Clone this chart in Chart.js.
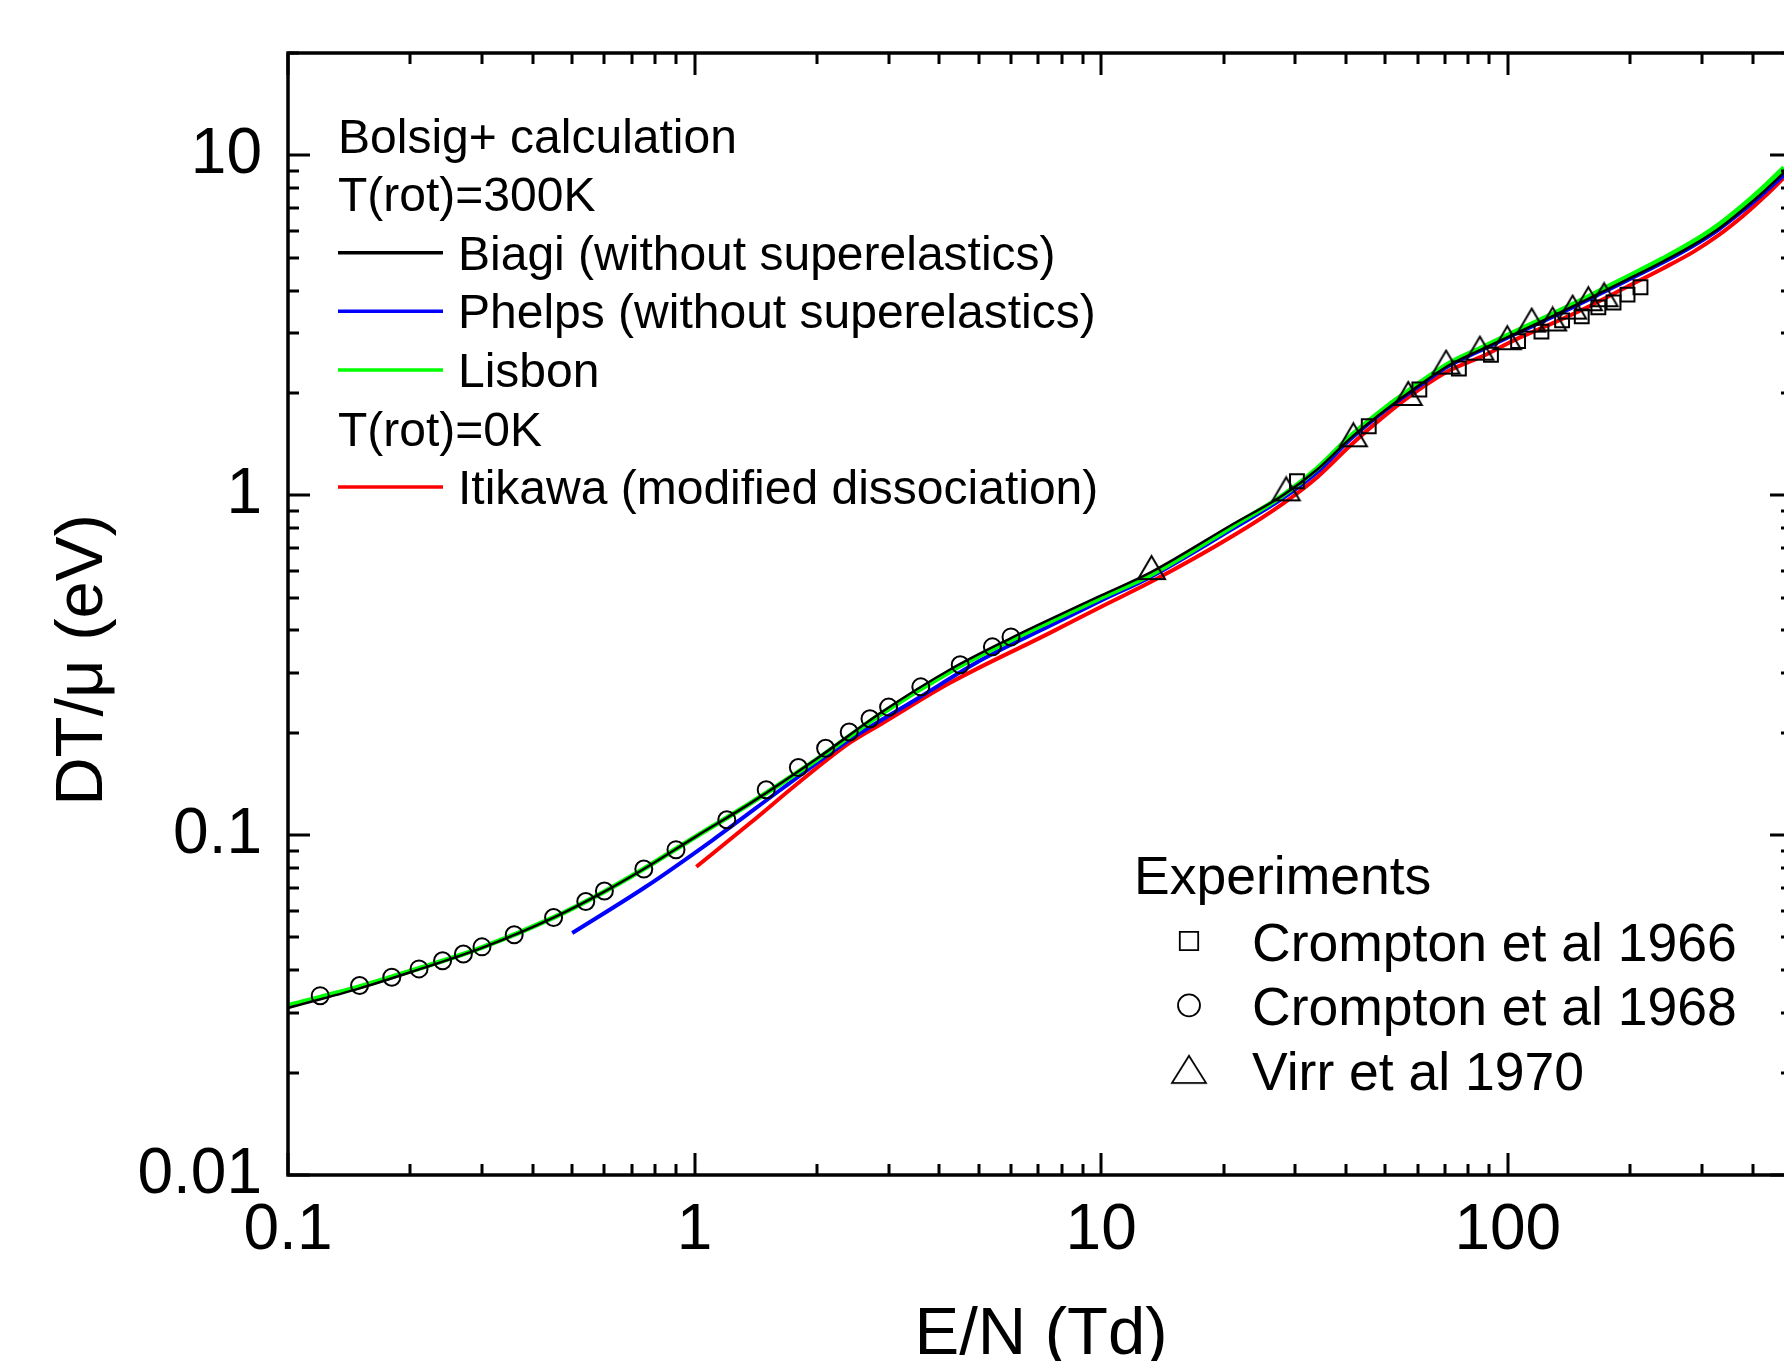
<!DOCTYPE html>
<html>
<head>
<meta charset="utf-8">
<title>DT/mu vs E/N</title>
<script src="https://cdn.jsdelivr.net/npm/chart.js@4.4.0/dist/chart.umd.min.js"></script>
<style>
  html, body { margin: 0; padding: 0; background: #fff; overflow: hidden; }
  #wrap { width: 1800px; height: 1361px; }
</style>
</head>
<body>
<div id="wrap"><canvas id="chart" width="1800" height="1361"></canvas></div>
<script>
// Axis ticks
const xTickValues = [0.1, 1, 10, 100];
const xTickLabels = ['0.1', '1', '10', '100'];
const yTickValues = [0.01, 0.1, 1, 10];
const yTickLabels = ['0.01', '0.1', '1', '10'];

// Bolsig+ calculation, T(rot)=300K
const biagiEN = [0.1, 0.15, 0.2, 0.3, 0.45, 0.6, 0.75, 1.0, 1.37, 2.0, 2.9, 4.25, 6.0, 7.5, 10, 13.3, 21, 28, 34, 41, 50, 60, 72, 87, 105, 130, 155, 196, 240, 286, 330, 380, 430, 478];
const biagiDT = [0.031, 0.0354, 0.0395, 0.0466, 0.0572, 0.0682, 0.0795, 0.0985, 0.124, 0.168, 0.231, 0.307, 0.38, 0.432, 0.507, 0.595, 0.82, 1.0, 1.19, 1.47, 1.78, 2.09, 2.42, 2.70, 3.0, 3.38, 3.74, 4.3, 4.86, 5.45, 6.08, 6.95, 7.9, 8.9];

const phelpsEN = [0.5, 0.76, 1.11, 1.65, 2.41, 3.52, 5.13, 7.48, 10, 13.3, 21, 28, 34, 41, 50, 60, 72, 87, 105, 130, 155, 196, 240, 286, 330, 380, 430, 478];
const phelpsDT = [0.0515, 0.0706, 0.0969, 0.1376, 0.191, 0.2515, 0.33, 0.413, 0.49, 0.577, 0.795, 0.98, 1.17, 1.46, 1.78, 2.08, 2.41, 2.69, 2.99, 3.36, 3.72, 4.28, 4.83, 5.42, 6.05, 6.9, 7.82, 8.75];

const lisbonEN = [0.1, 0.15, 0.2, 0.3, 0.45, 0.6, 0.75, 1.0, 1.37, 2.0, 2.9, 4.25, 6.0, 7.5, 10, 13.3, 21, 28, 34, 41, 50, 60, 72, 87, 105, 130, 155, 196, 240, 286, 330, 380, 430, 478];
const lisbonDT = [0.0315, 0.0358, 0.0398, 0.0467, 0.0572, 0.0682, 0.0795, 0.0985, 0.124, 0.167, 0.229, 0.303, 0.375, 0.426, 0.50, 0.585, 0.81, 1.0, 1.2, 1.49, 1.81, 2.12, 2.45, 2.73, 3.04, 3.43, 3.8, 4.38, 4.96, 5.58, 6.25, 7.15, 8.15, 9.2];

// T(rot)=0K
const itikawaEN = [1.01, 1.37, 1.82, 2.41, 2.91, 4.25, 7.48, 10, 13.3, 21, 28, 34, 41, 50, 60, 72, 87, 105, 127, 155, 196, 240, 286, 330, 380, 430, 478];
const itikawaDT = [0.0807, 0.1085, 0.144, 0.187, 0.214, 0.2805, 0.3935, 0.47, 0.557, 0.757, 0.945, 1.13, 1.40, 1.72, 2.03, 2.33, 2.57, 2.88, 3.18, 3.55, 4.1, 4.64, 5.2, 5.82, 6.65, 7.6, 8.6];

// Experiments
const crompton1966EN = [30.3, 45.5, 60.6, 75.8, 90.9, 106, 121, 136, 152, 167, 182, 197, 212];
const crompton1966DT = [1.099, 1.596, 2.047, 2.36, 2.59, 2.84, 3.03, 3.27, 3.36, 3.57, 3.69, 3.89, 4.09];

const crompton1968EN = [0.12, 0.15, 0.18, 0.21, 0.24, 0.27, 0.30, 0.36, 0.45, 0.54, 0.60, 0.75, 0.90, 1.2, 1.5, 1.8, 2.1, 2.4, 2.7, 3.0, 3.6, 4.5, 5.4, 6.0];
const crompton1968DT = [0.0337, 0.0361, 0.0382, 0.0404, 0.0427, 0.0447, 0.0469, 0.0509, 0.0572, 0.0638, 0.0685, 0.0795, 0.0906, 0.111, 0.136, 0.158, 0.180, 0.201, 0.220, 0.238, 0.273, 0.317, 0.358, 0.383];

const virr1970EN = [13.3, 28.5, 41.7, 56.9, 70.5, 85.4, 99.7, 114.5, 128.9, 144.4, 157.8, 172.5];
const virr1970DT = [0.6125, 1.044, 1.506, 1.992, 2.464, 2.708, 2.906, 3.275, 3.30, 3.576, 3.786, 3.89];

const FONT = '"Liberation Sans", Arial, sans-serif';

function toPoints(xs, ys) {
    return xs.map((x, i) => ({ x: x, y: ys[i] }));
}

// Open triangle centred on its bounding box (as in the original plot)
function makeTriangle(w, h, lw) {
    const c = document.createElement('canvas');
    c.width = Math.ceil(w + lw * 2);
    c.height = Math.ceil(h + lw * 2);
    const g = c.getContext('2d');
    g.strokeStyle = '#000';
    g.lineWidth = lw;
    g.beginPath();
    g.moveTo(c.width / 2, lw);
    g.lineTo(c.width / 2 + w / 2, lw + h);
    g.lineTo(c.width / 2 - w / 2, lw + h);
    g.closePath();
    g.stroke();
    return c;
}

const plotTriangle = makeTriangle(27, 23, 2);
const legendTriangle = makeTriangle(34, 27, 1.8);

function lineSet(label, xs, ys, color, width) {
    return {
        label: label,
        data: toPoints(xs, ys),
        showLine: true,
        borderColor: color,
        borderWidth: width,
        pointRadius: 0,
        fill: false,
        cubicInterpolationMode: 'monotone'
    };
}

function markerSet(label, xs, ys, style, radius) {
    return {
        label: label,
        data: toPoints(xs, ys),
        showLine: false,
        pointStyle: style,
        pointRadius: radius,
        pointBorderColor: '#000',
        pointBackgroundColor: 'rgba(0,0,0,0)',
        pointBorderWidth: 2
    };
}

// Frame, inward ticks, axis titles and the two text legends
const decorPlugin = {
    id: 'decor',
    afterDraw(chart) {
        const ctx = chart.ctx;
        const a = chart.chartArea;
        const x = chart.scales.x;
        const y = chart.scales.y;

        ctx.save();
        ctx.strokeStyle = '#000';
        ctx.lineCap = 'butt';

        // ticks on all four sides, pointing inwards
        ctx.lineWidth = 3;
        ctx.beginPath();
        for (let e = -1; e <= 2; e++) {
            for (let m = 1; m <= 9; m++) {
                const v = m * Math.pow(10, e);
                if (v < x.min || v > x.max) continue;
                const px = Math.round(x.getPixelForValue(v));
                const len = m === 1 ? 22 : 11;
                ctx.moveTo(px, a.bottom); ctx.lineTo(px, a.bottom - len);
                ctx.moveTo(px, a.top); ctx.lineTo(px, a.top + len);
            }
        }
        for (let e = -2; e <= 1; e++) {
            for (let m = 1; m <= 9; m++) {
                const v = m * Math.pow(10, e);
                if (v < y.min || v > y.max) continue;
                const py = Math.round(y.getPixelForValue(v));
                const len = m === 1 ? 22 : 11;
                ctx.moveTo(a.left, py); ctx.lineTo(a.left + len, py);
                ctx.moveTo(a.right, py); ctx.lineTo(a.right - len, py);
            }
        }
        ctx.stroke();

        // frame
        ctx.lineWidth = 3.5;
        ctx.strokeRect(a.left, a.top, a.right - a.left, a.bottom - a.top);

        // axis titles
        ctx.fillStyle = '#000';
        ctx.font = '67px ' + FONT;
        ctx.textAlign = 'center';
        ctx.textBaseline = 'alphabetic';
        ctx.fillText('E/N (Td)', 1041, 1354);
        ctx.save();
        ctx.translate(102, 660);
        ctx.rotate(-Math.PI / 2);
        ctx.fillText('DT/\u03bc (eV)', 0, 0);
        ctx.restore();

        // calculation legend
        const ds = chart.data.datasets;
        ctx.textAlign = 'left';
        ctx.font = '48px ' + FONT;
        const rows = [
            { text: 'Bolsig+ calculation' },
            { text: 'T(rot)=300K' },
            { text: 'Biagi (without superelastics)', color: ds[3].borderColor },
            { text: 'Phelps (without superelastics)', color: ds[5].borderColor },
            { text: 'Lisbon', color: ds[4].borderColor },
            { text: 'T(rot)=0K' },
            { text: 'Itikawa (modified dissociation)', color: ds[6].borderColor }
        ];
        rows.forEach((r, i) => {
            const base = 152.5 + i * 58.6;
            if (r.color) {
                ctx.strokeStyle = r.color;
                ctx.lineWidth = 3.5;
                ctx.beginPath();
                ctx.moveTo(338, base - 17);
                ctx.lineTo(443, base - 17);
                ctx.stroke();
                ctx.fillText(r.text, 458, base);
            } else {
                ctx.fillText(r.text, 338, base);
            }
        });

        // experiments legend
        ctx.font = '53.5px ' + FONT;
        ctx.fillText('Experiments', 1134, 894);
        const exRows = [
            { text: 'Crompton et al 1966', style: 'rect', radius: 13 },
            { text: 'Crompton et al 1968', style: 'circle', radius: 11 },
            { text: 'Virr et al 1970', style: legendTriangle, radius: 0 }
        ];
        exRows.forEach((r, i) => {
            const base = 961 + i * 64.3;
            ctx.fillStyle = '#000';
            ctx.fillText(r.text, 1252, base);
            ctx.save();
            ctx.strokeStyle = '#000';
            ctx.fillStyle = 'rgba(0,0,0,0)';
            ctx.lineWidth = 1.8;
            Chart.helpers.drawPoint(ctx, {
                pointStyle: r.style,
                radius: r.radius,
                rotation: 0,
                borderWidth: 1.8
            }, 1189, base - 20);
            ctx.restore();
        });

        ctx.restore();
    }
};

const ctx = document.getElementById('chart').getContext('2d');

const chart = new Chart(ctx, {
    type: 'scatter',
    data: {
        datasets: [
            markerSet('Virr et al 1970', virr1970EN, virr1970DT, plotTriangle, 14),
            markerSet('Crompton et al 1966', crompton1966EN, crompton1966DT, 'rect', 9.8),
            markerSet('Crompton et al 1968', crompton1968EN, crompton1968DT, 'circle', 8.5),
            lineSet('Biagi (without superelastics)', biagiEN, biagiDT, '#000000', 2.5),
            lineSet('Lisbon', lisbonEN, lisbonDT, '#00ff00', 5),
            lineSet('Phelps (without superelastics)', phelpsEN, phelpsDT, '#0000ff', 4),
            lineSet('Itikawa (modified dissociation)', itikawaEN, itikawaDT, '#ff0000', 4)
        ]
    },
    options: {
        responsive: false,
        animation: false,
        devicePixelRatio: 1,
        layout: {
            autoPadding: false,
            padding: { top: 53, right: 8, left: 0, bottom: 0 }
        },
        plugins: {
            legend: { display: false },
            tooltip: { enabled: false }
        },
        scales: {
            x: {
                type: 'logarithmic',
                position: 'bottom',
                min: 0.1,
                max: 500,
                grid: { display: false },
                border: { display: false },
                afterBuildTicks: (scale) => {
                    scale.ticks = xTickValues.map(v => ({ value: v, major: true }));
                },
                afterFit: (scale) => {
                    scale.height = 186;
                    scale.paddingLeft = 0;
                    scale.paddingRight = 0;
                },
                ticks: {
                    autoSkip: false,
                    maxRotation: 0,
                    padding: 10,
                    color: '#000',
                    font: { family: FONT, size: 64 },
                    callback: (value) => {
                        const i = xTickValues.indexOf(value);
                        return i >= 0 ? xTickLabels[i] : '';
                    }
                }
            },
            y: {
                type: 'logarithmic',
                min: 0.01,
                max: 20,
                grid: { display: false },
                border: { display: false },
                afterBuildTicks: (scale) => {
                    scale.ticks = yTickValues.map(v => ({ value: v, major: true }));
                },
                afterFit: (scale) => {
                    scale.width = 288;
                    scale.paddingTop = 0;
                    scale.paddingBottom = 0;
                },
                ticks: {
                    autoSkip: false,
                    padding: 18,
                    color: '#000',
                    font: { family: FONT, size: 64 },
                    callback: (value) => {
                        const i = yTickValues.indexOf(value);
                        return i >= 0 ? yTickLabels[i] : '';
                    }
                }
            }
        }
    },
    plugins: [decorPlugin]
});
</script>
</body>
</html>
